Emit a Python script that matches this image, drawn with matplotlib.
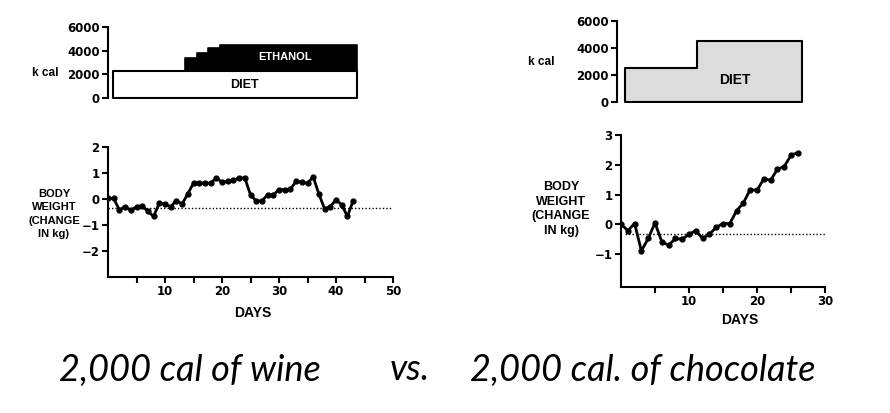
import numpy as np
import matplotlib
matplotlib.use("Agg")
import matplotlib.pyplot as plt
from matplotlib import font_manager

# Données

# Vin : jours 0..43, variation de poids (kg)
wine_days = np.arange(0, 44)
wine_weight = [0.03, 0.02, -0.42, -0.29, -0.44, -0.29, -0.26, -0.48, -0.67, -0.16,
               -0.20, -0.29, -0.06, -0.19, 0.20, 0.61, 0.61, 0.61, 0.61, 0.81,
               0.65, 0.68, 0.72, 0.81, 0.81, 0.16, -0.07, -0.07, 0.16, 0.16,
               0.36, 0.36, 0.38, 0.68, 0.64, 0.61, 0.85, 0.19, -0.38, -0.29,
               -0.03, -0.22, -0.67, -0.07]
wine_baseline = -0.35

# Chocolat : jours 0..26
choc_days = np.arange(0, 27)
choc_weight = [0.01, -0.21, 0.03, -0.89, -0.47, 0.05, -0.58, -0.70, -0.47, -0.50,
               -0.33, -0.21, -0.47, -0.33, -0.10, 0.03, 0.03, 0.46, 0.72, 1.17,
               1.14, 1.53, 1.48, 1.85, 1.94, 2.32, 2.41]
choc_baseline = -0.33

# Apports caloriques (k cal)
wine_diet_span = [0.9, 43.7]
wine_diet_kcal = 2300
ethanol_starts = [13.5, 15.6, 17.5, 19.6, 43.7]
ethanol_kcal = [3400, 3800, 4200, 4500, 4500]

choc_diet_x = [1.2, 11.8, 27.2]
choc_diet_kcal = [2500, 4500, 4500]

kcal_ticks = [0, 2000, 4000, 6000]


def pick(names, default="DejaVu Sans"):
    have = {f.name for f in font_manager.fontManager.ttflist}
    for n in names:
        if n in have:
            return n
    return default


label_font = pick(["Liberation Sans Narrow", "Liberation Sans", "DejaVu Sans"])
hand_font = pick(["Lato", "Open Sans", "DejaVu Sans"])

W, H = 890, 413


def rect(x0, x1, ytop, ybot):
    return [x0 / W, 1 - ybot / H, (x1 - x0) / W, (ybot - ytop) / H]


fig = plt.figure(figsize=(8.9, 4.13), dpi=100)


def style_top(ax, xmax):
    ax.set_xlim(0, xmax)
    ax.set_ylim(0, 6000)
    ax.set_yticks(kcal_ticks)
    for s in ["top", "right", "bottom"]:
        ax.spines[s].set_visible(False)
    ax.spines["left"].set_linewidth(1.5)
    ax.set_xticks([])
    ax.tick_params(axis="y", direction="out", length=4, width=1.5, labelsize=8.5, pad=2)
    for t in ax.get_yticklabels():
        t.set_fontweight("bold")
    ax.patch.set_alpha(0)


def style_bottom(ax, xmax, ylim, yticks):
    ax.set_xlim(0, xmax)
    ax.set_ylim(*ylim)
    ax.set_yticks(yticks)
    ax.set_xticks(np.arange(5, xmax + 1, 5))
    ax.set_xticklabels([str(v) if v % 10 == 0 else "" for v in np.arange(5, xmax + 1, 5)])
    for s in ["top", "right"]:
        ax.spines[s].set_visible(False)
    ax.spines["left"].set_linewidth(1.5)
    ax.spines["bottom"].set_linewidth(1.5)
    ax.tick_params(direction="out", length=4, width=1.5, labelsize=8.5, pad=2)
    for t in ax.get_yticklabels() + ax.get_xticklabels():
        t.set_fontweight("bold")
    ax.patch.set_alpha(0)


# 1. Vin - calories
ax1 = fig.add_axes(rect(108, 393, 27, 98))
ax1.fill_between(ethanol_starts, wine_diet_kcal, ethanol_kcal, step="post",
                 facecolor="black", edgecolor="black", lw=1.2)
ax1.fill_between(wine_diet_span, 0, wine_diet_kcal, facecolor="white",
                 edgecolor="black", lw=1.5)
ax1.text(31, 3450, "ETHANOL", color="white", fontsize=8, fontweight="bold",
         ha="center", va="center", family=label_font)
ax1.text(24, 1100, "DIET", color="black", fontsize=9, fontweight="bold",
         ha="center", va="center", family=label_font)
style_top(ax1, 50)
fig.text(45 / W, 1 - 73 / H, "k cal", fontsize=8.5, fontweight="bold",
         ha="center", va="center", family=label_font)

# 2. Vin - poids
ax2 = fig.add_axes(rect(108, 393, 147, 277))
ax2.axhline(wine_baseline, color="black", lw=1, ls=(0, (1, 1.5)))
ax2.plot(wine_days, wine_weight, color="black", lw=2, marker="o", ms=3.5)
style_bottom(ax2, 50, (-3, 2), [2, 1, 0, -1, -2])
fig.text(54 / W, 1 - 214 / H, "BODY\nWEIGHT\n(CHANGE\nIN kg)", fontsize=8,
         fontweight="bold", ha="center", va="center", linespacing=1.45,
         family=label_font)
fig.text(253 / W, 1 - 313 / H, "DAYS", fontsize=10, fontweight="bold",
         ha="center", va="center", family=label_font)

# 3. Chocolat - calories
ax3 = fig.add_axes(rect(617, 821, 21, 102))
ax3.fill_between(choc_diet_x, 0, choc_diet_kcal, step="post",
                 facecolor="#dcdcdc", edgecolor="black", lw=1.5)
ax3.text(17.3, 1650, "DIET", color="black", fontsize=10, fontweight="bold",
         ha="center", va="center", family=label_font)
style_top(ax3, 30)
fig.text(541 / W, 1 - 62 / H, "k cal", fontsize=8.5, fontweight="bold",
         ha="center", va="center", family=label_font)

# 4. Chocolat - poids
ax4 = fig.add_axes(rect(621, 825, 135, 287))
ax4.axhline(choc_baseline, xmin=0.02, color="black", lw=1, ls=(0, (1, 1.5)))
ax4.plot(choc_days, choc_weight, color="black", lw=2, marker="o", ms=3.5)
style_bottom(ax4, 30, (-2.1, 3), [3, 2, 1, 0, -1])
fig.text(561 / W, 1 - 209 / H, "BODY\nWEIGHT\n(CHANGE\nIN kg)", fontsize=9,
         fontweight="bold", ha="center", va="center", linespacing=1.3,
         family=label_font)
fig.text(740 / W, 1 - 320 / H, "DAYS", fontsize=10, fontweight="bold",
         ha="center", va="center", family=label_font)

# Légende manuscrite
hand = dict(fontsize=26, style="italic", fontweight="normal", va="center",
            color="black", family=hand_font)
fig.text(190 / W, 1 - 370 / H, "2,000 cal of wine", ha="center", **hand)
fig.text(410 / W, 1 - 370 / H, "vs.", ha="center", **hand)
fig.text(643 / W, 1 - 370 / H, "2,000 cal. of chocolate", ha="center", **hand)

fig.savefig("out.png", dpi=100, facecolor="white")
